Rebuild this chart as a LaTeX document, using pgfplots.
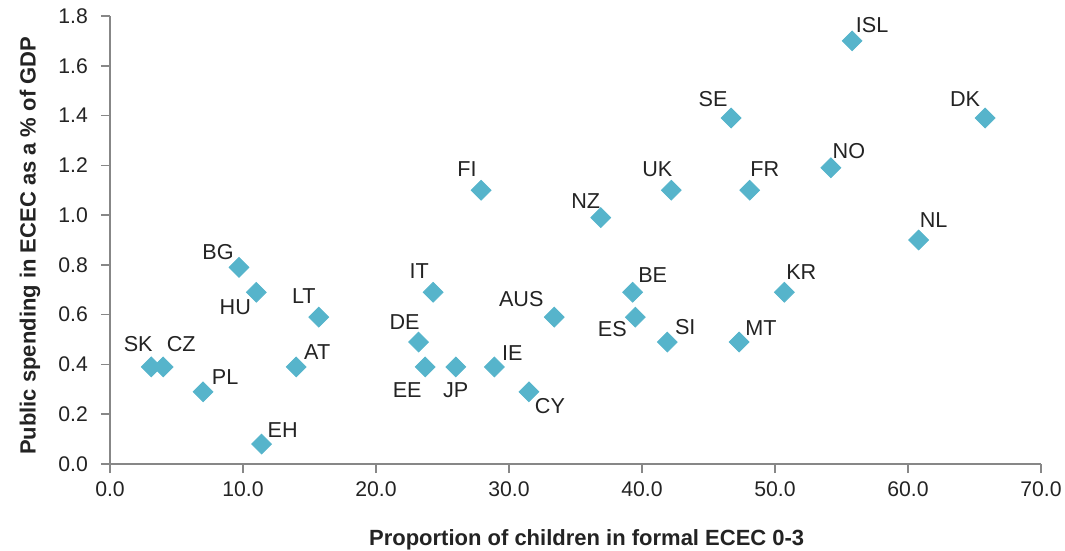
\documentclass[border=0pt]{standalone}
\usepackage{pgfplots}
\pgfplotsset{compat=1.18}
\usepackage{pgfplotstable}
\usepackage{fontspec}
\setmainfont{Liberation Sans}
\usetikzlibrary{calc}
\definecolor{mk}{RGB}{86,180,203}
\definecolor{txt}{RGB}{35,35,35}
\definecolor{axc}{RGB}{135,135,135}
\pgfplotstableread{
lab x y dx dy
SK 3.1 0.39 -6.5 11.5
CZ 4.0 0.39 9 11.5
PL 7.0 0.29 11 7.5
BG 9.7 0.79 -10.5 7.5
HU 11.0 0.69 -10.5 -7.5
LT 15.7 0.59 -7.5 10.5
AT 14.0 0.39 10.5 7.5
EH 11.4 0.08 10.5 7
FI 27.9 1.10 -7 10.5
UK 42.2 1.10 -7 10.5
NZ 36.9 0.99 -7.5 8.5
IT 24.3 0.69 -7 10.5
AUS 33.4 0.59 -16.5 9
BE 39.3 0.69 10 8.5
ES 39.5 0.59 -11.5 -6
SI 41.9 0.49 9 7.5
DE 23.2 0.49 -7 10
EE 23.7 0.39 -9 -11.5
JP 26.0 0.39 0 -11.5
IE 28.9 0.39 9 7
CY 31.5 0.29 10.5 -7
ISL 55.8 1.70 10 8
SE 46.7 1.39 -9 9.5
DK 65.8 1.39 -10 9.5
NO 54.2 1.19 9 8.5
FR 48.1 1.10 7.5 10.5
NL 60.8 0.90 7.5 10
KR 50.7 0.69 8.5 10
MT 47.3 0.49 11 7
}\datatable
\begin{document}
\begin{tikzpicture}
\begin{axis}[
  scale only axis, width=465.5pt, height=224pt,
  xmin=0, xmax=70, ymin=0, ymax=1.8,
  clip=false,
  axis x line*=bottom, axis y line*=left,
  axis line style={axc, line width=0.75pt},
  tick align=outside,
  major tick length=4.5pt,
  tick style={axc, line width=0.75pt},
  xtick={0,10,20,30,40,50,60,70},
  ytick={0,0.2,0.4,0.6,0.8,1.0,1.2,1.4,1.6,1.8},
  /pgf/number format/.cd, fixed, fixed zerofill, precision=1, assume math mode=true,
  /pgfplots/.cd,
  ticklabel style={font=\fontsize{10.6}{12}\selectfont, text=txt},
  yticklabel style={xshift=-3pt},
  xticklabel style={yshift=-1pt},
  every axis x label/.style={at={(axis description cs:0.512,-0.181)}, anchor=base},
  every axis y label/.style={at={(axis description cs:-0.086,0.487)}, rotate=90, anchor=center},
  label style={font=\bfseries\fontsize{11}{13}\selectfont, text=txt},
  xlabel={Proportion of children in formal ECEC 0-3},
  ylabel={Public spending in ECEC as a \% of GDP},
]
\addplot[only marks, mark=square*, mark size=3.5pt,
  mark options={rotate=45, fill=mk, draw=mk},
  nodes near coords, point meta=explicit symbolic,
  visualization depends on={\thisrow{dx}\as\dx},
  visualization depends on={\thisrow{dy}\as\dy},
  every node near coord/.append style={anchor=center, xshift=\dx pt, yshift=\dy pt,
    font=\fontsize{10.8}{12}\selectfont, text=txt, inner sep=0pt}
] table[x=x, y=y, meta=lab]{\datatable};
\end{axis}
\pgfresetboundingbox
\path[use as bounding box] ($(current axis.south west)+(-55pt,-43.5pt)$) rectangle ($(current axis.north east)+(12pt,8pt)$);
\end{tikzpicture}
\end{document}
